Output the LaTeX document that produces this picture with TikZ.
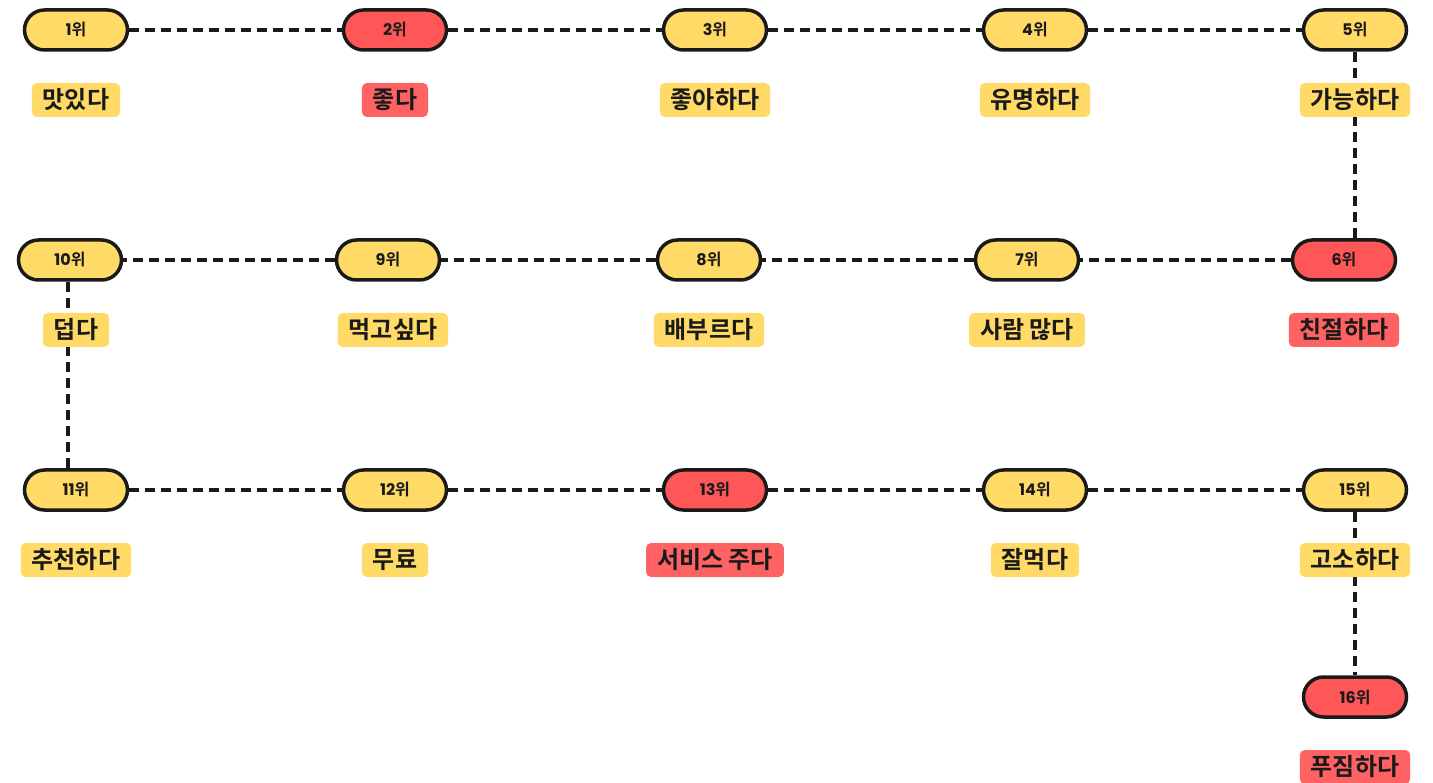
\documentclass[tikz,border=0pt]{standalone}
\usepackage{fontspec}
\setmainfont{Noto Sans CJK KR}[BoldFont={* Bold}]
\newfontfamily\cjkb{Noto Sans CJK KR Bold}
\newfontfamily\numf{Poppins Bold}
\definecolor{yel}{HTML}{FFDA66}
\definecolor{redn}{HTML}{FF5757}
\definecolor{redl}{HTML}{FF6262}
\definecolor{ink}{HTML}{1A1A1A}
\tikzset{
  rank/.style={draw=ink, line width=3.5pt, rounded corners=20pt, minimum width=103pt, minimum height=40pt, inner sep=0pt, font=\fontsize{16}{16}\selectfont, text=ink},
  ry/.style={rank, fill=yel},
  rr/.style={rank, fill=redn},
  lab/.style={rounded corners=5pt, minimum height=34pt, inner xsep=11pt, inner ysep=0pt, font=\cjkb\fontsize{24}{24}\selectfont, text=ink},
  ly/.style={lab, fill=yel},
  lr/.style={lab, fill=redl},
  conn/.style={draw=ink, line width=3.2pt, dash pattern=on 10pt off 6pt}
}
\newcommand{\rk}[1]{{\numf #1}{\cjkb 위}}
\begin{document}
\begin{tikzpicture}[x=1pt,y=-1pt]
\useasboundingbox (0,0) rectangle (1433,783);
% rank nodes
\node[ry] (n1) at (76,30) {\rk{1}};
\node[rr] (n2) at (395,30) {\rk{2}};
\node[ry] (n3) at (715,30) {\rk{3}};
\node[ry] (n4) at (1035,30) {\rk{4}};
\node[ry] (n5) at (1355,30) {\rk{5}};
\node[rr] (n6) at (1344,260) {\rk{6}};
\node[ry] (n7) at (1027,260) {\rk{7}};
\node[ry] (n8) at (709,260) {\rk{8}};
\node[ry] (n9) at (388,260) {\rk{9}};
\node[ry] (n10) at (70,260) {\rk{10}};
\node[ry] (n11) at (76,490) {\rk{11}};
\node[ry] (n12) at (395,490) {\rk{12}};
\node[rr] (n13) at (715,490) {\rk{13}};
\node[ry] (n14) at (1035,490) {\rk{14}};
\node[ry] (n15) at (1355,490) {\rk{15}};
\node[rr] (n16) at (1355,697) {\rk{16}};
% connectors
\draw[conn] (n1) -- (n2);
\draw[conn] (n2) -- (n3);
\draw[conn] (n3) -- (n4);
\draw[conn] (n4) -- (n5);
\draw[conn] (n5.south) -- (n5.south |- n6.north);
\draw[conn] (n6) -- (n7);
\draw[conn] (n7) -- (n8);
\draw[conn] (n8) -- (n9);
\draw[conn] (n9) -- (n10);
\draw[conn] ([xshift=-2pt]n10.south) -- ([xshift=-2pt]n10.south |- n11.north);
\draw[conn] (n11) -- (n12);
\draw[conn] (n12) -- (n13);
\draw[conn] (n13) -- (n14);
\draw[conn] (n14) -- (n15);
\draw[conn] (n15.south) -- (n15.south |- n16.north);
% labels
\node[ly] (l1) at (76,100) {맛있다};
\node[lr] (l2) at (395,100) {좋다};
\node[ly] (l3) at (715,100) {좋아하다};
\node[ly] (l4) at (1035,100) {유명하다};
\node[ly] (l5) at (1355,100) {가능하다};
\node[lr] (l6) at (1344,330) {친절하다};
\node[ly] (l7) at (1027,330) {사람 많다};
\node[ly] (l8) at (709,330) {배부르다};
\node[ly] (l9) at (393,330) {먹고싶다};
\node[ly] (l10) at (76,330) {덥다};
\node[ly] (l11) at (76,560) {추천하다};
\node[ly] (l12) at (395,560) {무료};
\node[lr] (l13) at (715,560) {서비스 주다};
\node[ly] (l14) at (1035,560) {잘먹다};
\node[ly] (l15) at (1355,560) {고소하다};
\node[lr] (l16) at (1355,767) {푸짐하다};
\end{tikzpicture}
\end{document}
